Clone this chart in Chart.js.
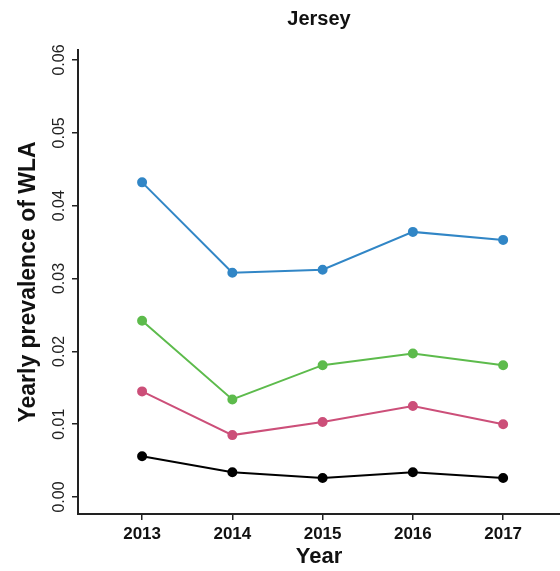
<!DOCTYPE html>
<html>
<head>
<meta charset="utf-8">
<script src="https://cdn.jsdelivr.net/npm/chart.js@4"></script>
<style>
  html, body { margin: 0; padding: 0; background: #fff; }
  #wrap { width: 560px; height: 571px; }
</style>
</head>
<body>
<div id="wrap"><canvas id="c" width="560" height="571"></canvas></div>
<script>
// Data
const years = [2013, 2014, 2015, 2016, 2017];
const blueSeries  = [0.0432, 0.0308, 0.0312, 0.0364, 0.0353];
const greenSeries = [0.0242, 0.0134, 0.0181, 0.0197, 0.0181];
const pinkSeries  = [0.0145, 0.0085, 0.0103, 0.0125, 0.0100];
const blackSeries = [0.0056, 0.0034, 0.0026, 0.0034, 0.0026];
const yTickValues = [0.00, 0.01, 0.02, 0.03, 0.04, 0.05, 0.06];

const toPoints = arr => arr.map((v, i) => ({ x: years[i], y: v }));

function ds(data, color) {
  return {
    data: toPoints(data),
    borderColor: color,
    backgroundColor: color,
    pointBackgroundColor: color,
    pointBorderColor: color,
    borderWidth: 2,
    pointRadius: 4,
    pointHoverRadius: 4,
    tension: 0
  };
}

const FONT = "'Liberation Sans', Arial, sans-serif";

new Chart(document.getElementById('c'), {
  type: 'line',
  data: {
    datasets: [
      ds(blueSeries, '#3186c6'),
      ds(greenSeries, '#5dbb4c'),
      ds(pinkSeries, '#cc4f79'),
      ds(blackSeries, '#000000')
    ]
  },
  options: {
    responsive: false,
    animation: false,
    devicePixelRatio: 1,
    layout: { padding: 0, autoPadding: false },
    plugins: {
      legend: { display: false },
      tooltip: { enabled: false },
      title: {
        display: true,
        fullSize: false,
        text: 'Jersey',
        color: '#111',
        font: { family: FONT, size: 20, weight: 'bold' },
        padding: { top: 7, bottom: 19 }
      }
    },
    scales: {
      x: {
        type: 'linear',
        min: 2012.29,
        max: 2017.63,
        bounds: 'data',
        afterBuildTicks: s => { s.ticks = years.map(v => ({ value: v })); },
        afterFit: s => { s.height = 57; s.paddingLeft = 0; s.paddingRight = 0; },
        ticks: {
          includeBounds: false,
          stepSize: 1,
          padding: 4,
          color: '#111',
          font: { family: FONT, size: 17, weight: 'bold' },
          callback: v => String(v),
          maxRotation: 0,
          minRotation: 0
        },
        grid: { display: true, drawOnChartArea: false, drawTicks: true, tickLength: 6, color: '#222', lineWidth: 1.5 },
        border: { display: true, color: '#222', width: 2 },
        title: {
          display: true,
          text: 'Year',
          color: '#111',
          font: { family: FONT, size: 22, weight: 'bold' },
          padding: { top: 0, bottom: 1 }
        }
      },
      y: {
        type: 'linear',
        min: -0.00233,
        max: 0.06137,
        bounds: 'data',
        afterBuildTicks: s => { s.ticks = yTickValues.map(v => ({ value: v })); },
        afterFit: s => { s.width = 78; s.paddingTop = 0; s.paddingBottom = 0; },
        ticks: {
          includeBounds: false,
          stepSize: 0.01,
          minRotation: 90,
          maxRotation: 90,
          crossAlign: 'center',
          padding: -3,
          color: '#222',
          font: { family: FONT, size: 16 },
          callback: v => Number(v).toFixed(2)
        },
        grid: { display: true, drawOnChartArea: false, drawTicks: true, tickLength: 6, color: '#222', lineWidth: 1.5 },
        border: { display: true, color: '#222', width: 2 },
        title: {
          display: true,
          text: 'Yearly prevalence of WLA',
          color: '#111',
          font: { family: FONT, size: 23, weight: 'bold' },
          padding: { top: 15, bottom: 0 }
        }
      }
    }
  }
});
</script>
</body>
</html>
